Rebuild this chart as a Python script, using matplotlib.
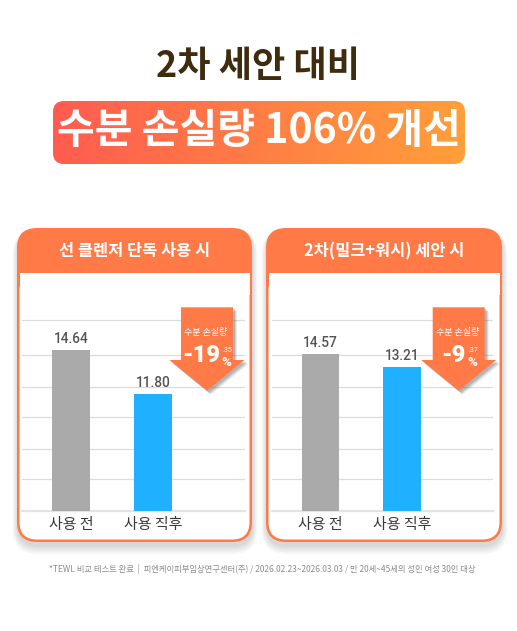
import numpy as np
import matplotlib
matplotlib.use('Agg')
import matplotlib.pyplot as plt
from matplotlib.patches import FancyBboxPatch, Polygon, Rectangle
from matplotlib.colors import LinearSegmentedColormap

plt.rcParams['font.family'] = ['Noto Sans CJK KR', 'DejaVu Sans']

# ---- data ----
title = '2차 세안 대비'
headline = '수분 손실량 106% 개선'
panel_titles = ['선 클렌저 단독 사용 시', '2차(밀크+워시) 세안 시']
categories = ['사용 전', '사용 직후']
before_values = [14.64, 14.57]
after_values = [11.80, 13.21]
loss_label = '수분 손실량'
loss_main = ['-19', '-9']
loss_decimal = ['.35', '.37']
footnote = ('*TEWL 비교 테스트 완료  |  피엔케이피부임상연구센터(주) / '
            '2026.02.23~2026.03.03 / 만 20세~45세의 성인 여성 30인 대상')

# ---- styles / layout (pixels) ----
W, H = 517, 631
ORANGE = '#ff7a47'
GRAY_BAR = '#aaaaaa'
BLUE_BAR = '#1fb1ff'
panel_x = [(17, 252), (266, 502)]
panel_top, header_bottom, panel_bottom = 228, 273, 542
plot_x = [(22, 245), (271.7, 493.3)]
plot_top, plot_base = 300, 510.7
ylims = [(4.4, 17.8), (-2.3, 20.4)]
grid_px = [320, 355, 386.7, 417.3, 448.7, 479.3]
arrow_cx = [207, 458.7]
main_xy = [(201.5, 356), (453, 356)]
dec_xy = [(227, 350.5), (473, 350.7)]
pct_xy = [(226.5, 362), (472.5, 362)]


def fig_rect(x0, y0, x1, y1):
    return [x0 / W, 1 - y1 / H, (x1 - x0) / W, (y1 - y0) / H]


fig = plt.figure(figsize=(W / 100, H / 100), dpi=100)
fig.patch.set_facecolor('white')

bg = fig.add_axes([0, 0, 1, 1])
bg.axis('off')

# title
bg.text(258.5, 67, title, ha='center', va='center', fontsize=26,
        fontweight='heavy', color='#3f2b0e')

# gradient banner
cmap = LinearSegmentedColormap.from_list('banner', ['#ff5c50', '#ff9f3a'])
grad = np.linspace(0, 1, 256).reshape(1, -1)
im = bg.imshow(grad, extent=[53, 465, 164, 101], cmap=cmap, aspect='auto')
banner = FancyBboxPatch((53, 101), 412, 63, boxstyle='round,pad=0,rounding_size=11',
                        fc='none', ec='none')
bg.add_patch(banner)
im.set_clip_path(banner)
bg.text(258.5, 131, headline, ha='center', va='center', fontsize=29.5,
        fontweight='heavy', color='white')

# panels
for (x0, x1), ptitle in zip(panel_x, panel_titles):
    w = x1 - x0
    h = panel_bottom - panel_top
    # soft shadow
    for k in range(5):
        grow = 1 + k * 1.1
        bg.add_patch(FancyBboxPatch((x0 - grow + 1, panel_top + 3 - grow * 0.3), w + 2 * grow - 1,
                                    h + 2 * grow, boxstyle='round,pad=0,rounding_size=%g' % (20 + grow),
                                    fc='#000000', ec='none', alpha=0.03))
    bg.add_patch(FancyBboxPatch((x0, panel_top), w, h,
                                boxstyle='round,pad=0,rounding_size=20',
                                fc=ORANGE, ec='none'))
    bw = 2.5
    bg.add_patch(FancyBboxPatch((x0 + bw, header_bottom), w - 2 * bw, panel_bottom - bw - header_bottom,
                                boxstyle='round,pad=0,rounding_size=17.5',
                                fc='white', ec='none'))
    bg.add_patch(Rectangle((x0 + bw, header_bottom), w - 2 * bw, 22, fc='white', ec='none'))
    bg.text((x0 + x1) / 2, 251, ptitle, ha='center', va='center', fontsize=11.8,
            fontweight='bold', color='white')

# footnote
bg.text(262.5, 569, footnote, ha='center', va='center', fontsize=6.0, color='#8c8c8c')

bg.set_xlim(0, W)
bg.set_ylim(H, 0)

# bar charts
for i in range(2):
    ax = fig.add_axes(fig_rect(plot_x[i][0], plot_top, plot_x[i][1], plot_base))
    ax.set_facecolor('none')
    y0, y1 = ylims[i]
    vals = [before_values[i], after_values[i]]
    for f in grid_px:
        fr = (plot_base - f) / (plot_base - plot_top)
        ax.plot([0, 1], [fr, fr], transform=ax.transAxes, color='#dcdcdc', lw=0.9, zorder=0)
    ax.plot([0, 1], [0, 0], transform=ax.transAxes, color='#e4e4e4', lw=1.6,
            clip_on=False, zorder=0)
    ax.bar([0, 1], [v - y0 for v in vals], bottom=y0, width=0.46,
           color=[GRAY_BAR, BLUE_BAR], zorder=2)
    for x, v in zip([0, 1], vals):
        ax.annotate('%.2f' % v, (x, v), xytext=(0, 3), textcoords='offset points',
                    ha='center', va='bottom', fontsize=9.8, color='#555555',
                    fontweight='medium', family=['Roboto', 'DejaVu Sans'])
    ax.set_xlim(-0.6, 2.12)
    ax.set_ylim(y0, y1)
    ax.set_xticks([0, 1])
    ax.set_xticklabels(categories, fontsize=10.8, color='#3a3a3a', fontweight='medium')
    ax.tick_params(axis='x', length=0, pad=5)
    ax.set_yticks([])
    for s in ax.spines.values():
        s.set_visible(False)

# arrow badges
top = fig.add_axes([0, 0, 1, 1])
top.axis('off')
top.set_facecolor('none')
for i in range(2):
    cx = arrow_cx[i]
    pts = [(cx - 26, 307.3), (cx + 26, 307.3), (cx + 26, 360), (cx + 37.5, 360),
           (cx, 390.7), (cx - 37.5, 360), (cx - 26, 360)]
    for dx, a in [(4, 0.12), (3, 0.18), (2, 0.22)]:
        top.add_patch(Polygon([(x + dx, y + dx) for x, y in pts], closed=True,
                              fc='#555555', ec='none', alpha=a))
    top.add_patch(Polygon(pts, closed=True, fc=ORANGE, ec='none'))
    top.text(cx - 1.5, 333, loss_label, ha='center', va='center', fontsize=6.5,
             color='white', fontweight='medium')
    top.text(main_xy[i][0], main_xy[i][1], loss_main[i], ha='center', va='center',
             fontsize=17, fontweight='black', color='white', family=['Roboto', 'DejaVu Sans'])
    top.text(dec_xy[i][0], dec_xy[i][1], loss_decimal[i], ha='center', va='center',
             fontsize=5, color='white', family=['Roboto', 'DejaVu Sans'])
    top.text(pct_xy[i][0], pct_xy[i][1], '%', ha='center', va='center',
             fontsize=9.5, fontweight='bold', color='white', family=['Roboto', 'DejaVu Sans'])
top.set_xlim(0, W)
top.set_ylim(H, 0)

fig.savefig('out.png', dpi=100, facecolor='white')
